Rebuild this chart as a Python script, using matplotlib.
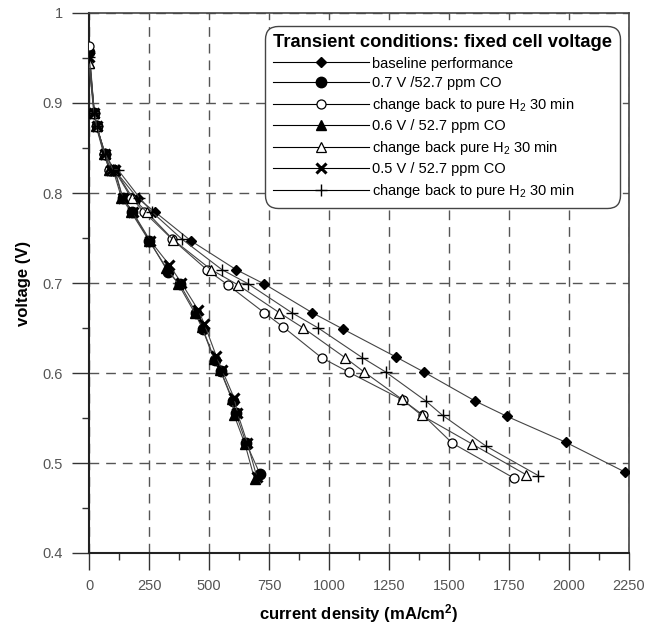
import matplotlib
matplotlib.use('Agg')
import matplotlib.pyplot as plt
import numpy as np

plt.rcParams['font.family'] = ['Liberation Sans', 'DejaVu Sans']
plt.rcParams['mathtext.default'] = 'regular'

# baseline performance
base_x = [0, 22, 32, 68, 105, 203, 275, 424, 612, 730, 930, 1057, 1278, 1396, 1608, 1740, 1987, 2233]
base_y = [0.957, 0.889, 0.874, 0.843, 0.826, 0.794, 0.779, 0.747, 0.715, 0.699, 0.667, 0.649, 0.618, 0.601, 0.569, 0.552, 0.523, 0.490]

# 0.7 V / 52.7 ppm CO
co07_x = [0, 22, 32, 65, 88, 105, 140, 180, 252, 330, 378, 446, 474, 525, 550, 600, 612, 655, 712]
co07_y = [0.957, 0.889, 0.875, 0.843, 0.826, 0.826, 0.795, 0.779, 0.747, 0.712, 0.699, 0.667, 0.649, 0.614, 0.602, 0.569, 0.555, 0.522, 0.488]

# change back to pure H2 30 min (after 0.7 V)
cb07_x = [0, 22, 32, 64, 85, 105, 175, 229, 345, 490, 578, 730, 810, 969, 1082, 1307, 1393, 1514, 1772]
cb07_y = [0.963, 0.889, 0.874, 0.843, 0.826, 0.826, 0.795, 0.779, 0.749, 0.715, 0.698, 0.667, 0.651, 0.617, 0.601, 0.570, 0.553, 0.522, 0.483]

# 0.6 V / 52.7 ppm CO
co06_x = [0, 20, 30, 62, 85, 100, 135, 175, 250, 322, 372, 440, 470, 520, 547, 595, 605, 650, 690]
co06_y = [0.944, 0.889, 0.874, 0.843, 0.826, 0.826, 0.795, 0.779, 0.747, 0.717, 0.699, 0.667, 0.651, 0.616, 0.603, 0.571, 0.553, 0.521, 0.482]

# change back pure H2 30 min (after 0.6 V)
cb06_x = [0, 22, 32, 66, 88, 108, 180, 240, 351, 508, 620, 793, 893, 1067, 1147, 1303, 1386, 1597, 1821]
cb06_y = [0.945, 0.889, 0.874, 0.843, 0.826, 0.826, 0.795, 0.779, 0.748, 0.715, 0.698, 0.667, 0.650, 0.617, 0.601, 0.571, 0.553, 0.521, 0.487]

# 0.5 V / 52.7 ppm CO
co05_x = [0, 22, 32, 66, 90, 108, 140, 182, 255, 335, 385, 455, 480, 530, 555, 605, 618, 660, 700]
co05_y = [0.951, 0.889, 0.874, 0.843, 0.826, 0.826, 0.795, 0.779, 0.747, 0.720, 0.700, 0.670, 0.655, 0.619, 0.603, 0.572, 0.556, 0.522, 0.484]

# change back to pure H2 30 min (after 0.5 V)
cb05_x = [0, 22, 32, 68, 100, 120, 210, 262, 386, 553, 664, 845, 955, 1139, 1237, 1403, 1473, 1653, 1872]
cb05_y = [0.951, 0.889, 0.874, 0.843, 0.826, 0.826, 0.795, 0.779, 0.749, 0.715, 0.699, 0.667, 0.650, 0.617, 0.601, 0.569, 0.553, 0.519, 0.486]

x_ticks = [0, 250, 500, 750, 1000, 1250, 1500, 1750, 2000, 2250]
y_ticks = [0.4, 0.5, 0.6, 0.7, 0.8, 0.9, 1.0]
y_ticklabels = ['0.4', '0.5', '0.6', '0.7', '0.8', '0.9', '1']

fig = plt.figure(figsize=(6.56, 6.25), dpi=100)
ax = fig.add_axes([89/656, 1-553/625, 540/656, 540/625])

lc = '#444444'
lw = 0.8
ax.plot(base_x, base_y, color=lc, lw=lw, marker='D', ms=5, mfc='black', mec='black', label='baseline performance', zorder=3)
ax.plot(co07_x, co07_y, color=lc, lw=lw, marker='o', ms=7.5, mfc='black', mec='black', label='0.7 V /52.7 ppm CO', zorder=3)
ax.plot(cb07_x, cb07_y, color=lc, lw=lw, marker='o', ms=6.5, mfc='white', mec='black', mew=0.9, label='change back to pure H$_2$ 30 min', zorder=3)
ax.plot(co06_x, co06_y, color=lc, lw=lw, marker='^', ms=7.5, mfc='black', mec='black', label='0.6 V / 52.7 ppm CO', zorder=3)
ax.plot(cb06_x, cb06_y, color=lc, lw=lw, marker='^', ms=6.5, mfc='white', mec='black', mew=0.9, label='change back pure H$_2$ 30 min', zorder=3)
ax.plot(co05_x, co05_y, color=lc, lw=lw, marker='x', ms=6.5, mec='black', mew=2.2, label='0.5 V / 52.7 ppm CO', zorder=3)
ax.plot(cb05_x, cb05_y, color=lc, lw=lw, marker='+', ms=9, mec='black', mew=1, label='change back to pure H$_2$ 30 min', zorder=3)

ax.set_xlim(0, 2250)
ax.set_ylim(0.4, 1.0)
ax.set_xticks(x_ticks)
ax.set_yticks(y_ticks)
ax.set_yticklabels(y_ticklabels)
ax.set_xticks(np.arange(125, 2250, 250), minor=True)
ax.set_yticks(np.arange(0.45, 1.0, 0.1), minor=True)
ax.tick_params(which='major', direction='out', length=12, width=1, color='#333333',
               labelsize=10.5, labelcolor='#555555', pad=7)
ax.tick_params(which='minor', direction='out', length=5, width=1, color='#333333')
ax.grid(True, which='major', color='#555555', linestyle=(0, (7, 5)), lw=1)

for side in ['left', 'bottom']:
    ax.spines[side].set_linewidth(1.5)
    ax.spines[side].set_color('#222222')
for side in ['top', 'right']:
    ax.spines[side].set_linewidth(1.2)
    ax.spines[side].set_color('#444444')

ax.set_xlabel('current density (mA/cm$^{2}$)', fontsize=12, fontweight='bold', labelpad=6)
ax.set_ylabel('voltage (V)', fontsize=12, fontweight='bold', labelpad=8)

leg = ax.legend(loc='upper right', bbox_to_anchor=(0.983, 0.976), borderaxespad=0,
                fontsize=10.5,
                title='Transient conditions: fixed cell voltage',
                title_fontproperties={'weight': 'bold', 'size': 13.2},
                alignment='left',
                handlelength=6.6, handletextpad=0.2, labelspacing=0.38,
                borderpad=0.55, fancybox=True, framealpha=1, edgecolor='#444444')
leg.get_frame().set_linewidth(1)
leg.get_frame().set_boxstyle('round,pad=0,rounding_size=0.9')
for line in leg.get_lines():
    line.set_color('black')
leg.set_zorder(5)

plt.savefig('out.png', dpi=100)
